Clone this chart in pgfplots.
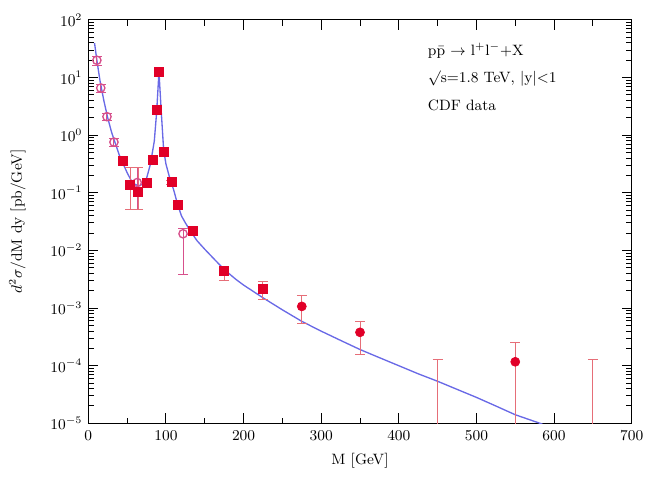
\documentclass[border=0pt]{standalone}
\usepackage{pgfplots}
\pgfplotsset{compat=1.18}
\usetikzlibrary{calc}
\definecolor{curve}{RGB}{105,105,230}
\definecolor{ptred}{RGB}{225,0,40}
\definecolor{errred}{RGB}{230,110,120}
\definecolor{opink}{RGB}{215,80,140}

\begin{document}
\begin{tikzpicture}
\begin{axis}[
  scale only axis, width=326pt, height=242pt,
  xmin=0, xmax=700, ymin=1e-5, ymax=100, ymode=log,
  xtick={0,100,...,700}, minor xtick={50,150,...,650},
  ytick={1e-5,1e-4,1e-3,1e-2,1e-1,1,10,100},
  tick align=inside, major tick length=6pt, minor tick length=3.5pt,
  every tick/.style={black, semithick},
  tick label style={font=\small},
  xticklabel style={yshift=-1pt},
  xlabel={M [GeV]}, ylabel={$d^2\sigma$/dM dy [pb/GeV]},
  label style={font=\small},
  xlabel style={yshift=-1pt},
  ylabel style={yshift=8pt},
  axis line style={semithick},
  clip=true,
]
% theory curve
\addplot[curve, thick] coordinates {
 (8,39.8) (11,20) (15,8.91) (20,3.98) (25,2.0) (30,1.12) (35,0.708) (40,0.447)
 (45,0.316) (50,0.224) (55,0.166) (60,0.141) (65,0.132) (70,0.141) (75,0.178)
 (80,0.316) (85,0.794) (88,2.51) (91,12.6) (94,2.51) (97,0.562) (100,0.316)
 (105,0.178) (110,0.112) (115,0.0631) (120,0.0398) (125,0.0302) (130,0.0234)
 (135,0.0186) (140,0.0148) (150,0.0105) (160,0.00759) (175,0.00468)
 (190,0.00316) (200,0.00251) (225,0.00151) (250,9.33e-4)
 (275,5.89e-4) (300,3.98e-4) (325,2.75e-4) (350,1.91e-4) (375,1.38e-4)
 (400,1e-4) (425,7.24e-5) (450,5.37e-5) (475,3.89e-5)
 (500,2.82e-5) (525,2.0e-5) (550,1.41e-5) (582,1e-5) (600,7.94e-6)
};
% open circles
\addplot[only marks, mark=o, mark size=2.5pt, opink, thick,
  error bars/.cd, y dir=both, y explicit,
  error bar style={opink, semithick}, error mark options={rotate=90, mark size=3pt, opink}]
coordinates {
 (11,20) += (0,3.4) -= (0,3.4)
 (16,6.6) += (0,1.0) -= (0,1.0)
 (24,2.1) += (0,0.3) -= (0,0.3)
 (33,0.76) += (0,0.12) -= (0,0.12)
 (63,0.151) += (0,0.124) -= (0,0.100)
 (122,0.0195) += (0,0.0045) -= (0,0.0157)
};
% filled squares
\addplot[only marks, mark=square*, mark size=2.7pt, ptred,
  error bars/.cd, y dir=both, y explicit,
  error bar style={errred, semithick}, error mark options={rotate=90, mark size=3pt, errred}]
coordinates {
 (45,0.355) += (0,0.043) -= (0,0.039)
 (54,0.138) += (0,0.137) -= (0,0.087)
 (64,0.105) += (0,0.170) -= (0,0.054)
 (75,0.148) += (0,0.015) -= (0,0.015)
 (83,0.37) += (0,0.03) -= (0,0.03)
 (88,2.75) += (0,0.2) -= (0,0.2)
 (91,12.6) += (0,0.8) -= (0,0.8)
 (97,0.51) += (0,0.04) -= (0,0.04)
 (107,0.155) += (0,0.013) -= (0,0.013)
 (115,0.0617) += (0,0.006) -= (0,0.006)
 (134,0.0219) += (0,0.0025) -= (0,0.0025)
 (175,0.00447) += (0,0.00078) -= (0,0.00138)
 (225,0.00219) += (0,0.00069) -= (0,0.00078)
};
% filled circles
\addplot[only marks, mark=*, mark size=2.7pt, ptred,
  error bars/.cd, y dir=both, y explicit,
  error bar style={errred, semithick}, error mark options={rotate=90, mark size=3pt, errred}]
coordinates {
 (275,0.00107) += (0,0.00059) -= (0,0.00053)
 (350,0.00038) += (0,0.00021) -= (0,0.000225)
 (550,0.000117) += (0,0.000134) -= (0,0.000110)
};
% upper limits only
\addplot[draw=none, mark=none,
  error bars/.cd, y dir=both, y explicit,
  error bar style={errred, semithick}, error mark options={rotate=90, mark size=3pt, errred}]
coordinates {
 (450,0.00013) += (0,0) -= (0,0.000125)
 (650,0.00013) += (0,0) -= (0,0.000125)
};
\node[anchor=west, font=\small] at (axis cs:430,29) {p\={p} $\rightarrow$ l$^+$l$^-$+X};
\node[anchor=west, font=\small] at (axis cs:430,9.6) {$\surd$s=1.8 TeV, $|$y$|$$<$1};
\node[anchor=west, font=\small] at (axis cs:430,3.3) {CDF data};
\end{axis}
\pgfresetboundingbox
\path ($(current axis.south west)+(-53pt,-32pt)$) rectangle ($(current axis.north east)+(8pt,12pt)$);
\end{tikzpicture}
\end{document}
